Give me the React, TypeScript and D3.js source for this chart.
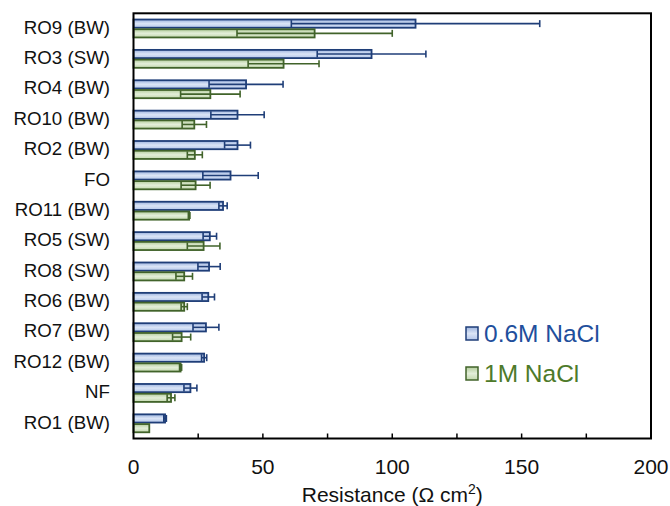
import React from "react";
import * as d3 from "d3";

const categories = ["RO9 (BW)", "RO3 (SW)", "RO4 (BW)", "RO10 (BW)", "RO2 (BW)", "FO", "RO11 (BW)", "RO5 (SW)", "RO8 (SW)", "RO6 (BW)", "RO7 (BW)", "RO12 (BW)", "NF", "RO1 (BW)"];
const series06 = [109, 92, 43.5, 40.2, 40.2, 37.5, 34.6, 29.5, 29.2, 28.9, 28, 27.3, 22, 12.2];
const err06 = [48, 21, 14.3, 10.3, 5, 10.7, 1.6, 2.6, 4.3, 2.4, 5, 1, 2.5, 0.5];
const series1 = [70, 58, 29.7, 23.5, 23.7, 24, 21.5, 27.1, 19.6, 19.6, 18.6, 18.2, 14.5, 6.1];
const err1 = [30, 13.7, 11.5, 4.7, 2.9, 5.6, 0.3, 6.3, 3.2, 1.2, 3.5, 0.4, 1.5, 0];
const seriesNames = ["0.6M NaCl", "1M NaCl"];
const xTicks = [0, 50, 100, 150, 200];
const xMinorTicks = [25, 75, 125, 175];

const W = 670, H = 506;
const M = { left: 133.5, right: 651, top: 13.3, bottom: 438.5 };

export default function App() {
  const x = d3.scaleLinear().domain([0, 200]).range([M.left, M.right]);
  const y = d3.scaleBand<string>().domain(categories).range([M.top, M.bottom]).paddingInner(0.36).paddingOuter(0.18);
  const sub = d3.scaleBand<string>().domain(seriesNames).range([0, y.bandwidth()]);

  const styles = [
    { grad: "gBlue", stroke: "#1f3e78", text: "#1f4f9c", vals: series06, errs: err06 },
    { grad: "gGreen", stroke: "#41632a", text: "#4e7a2a", vals: series1, errs: err1 },
  ];

  return (
    <svg width={W} height={H} style={{ position: "absolute", left: 0, top: 0, background: "#fff" }} fontFamily="'Liberation Sans', Arial, sans-serif">
      <defs>
        <linearGradient id="gBlue" x1="0" y1="0" x2="0" y2="1">
          <stop offset="0" stopColor="#9db4df" />
          <stop offset="0.5" stopColor="#dbe5f6" />
          <stop offset="1" stopColor="#b3c6ea" />
        </linearGradient>
        <linearGradient id="gGreen" x1="0" y1="0" x2="0" y2="1">
          <stop offset="0" stopColor="#b3cd9c" />
          <stop offset="0.5" stopColor="#e3eed9" />
          <stop offset="1" stopColor="#c2d8ad" />
        </linearGradient>
      </defs>

      {categories.map((c, i) => (
        <g key={c}>
          {styles.map((s, k) => {
            const y0 = (y(c) as number) + (sub(seriesNames[k]) as number);
            const h = sub.bandwidth();
            const v = s.vals[i];
            const e = s.errs[i];
            const cy = y0 + h / 2;
            return (
              <g key={k}>
                <rect x={x(0)} y={y0 + 0.75} width={x(v) - x(0)} height={h - 1.5} fill={`url(#${s.grad})`} stroke={s.stroke} strokeWidth={1.8} />
                {e > 0 && (
                  <g stroke={s.stroke} strokeWidth={1.6}>
                    <line x1={x(v - e)} x2={x(v + e)} y1={cy} y2={cy} />
                    <line x1={x(v - e)} x2={x(v - e)} y1={cy - 3.5} y2={cy + 3.5} />
                    <line x1={x(v + e)} x2={x(v + e)} y1={cy - 3.5} y2={cy + 3.5} />
                  </g>
                )}
              </g>
            );
          })}
          <text x={110} y={(y(c) as number) + y.bandwidth() / 2 - 1.5} dy="0.36em" textAnchor="end" fontSize={18.7} fill="#111">{c}</text>
        </g>
      ))}

      {/* frame */}
      <rect x={M.left} y={M.top} width={M.right - M.left} height={M.bottom - M.top} fill="none" stroke="#000" strokeWidth={2} />
      {[...xTicks, ...xMinorTicks].filter(t => t > 0 && t < 200).map(t => (
        <line key={t} x1={x(t)} x2={x(t)} y1={M.bottom} y2={M.bottom - 5} stroke="#000" strokeWidth={1.5} />
      ))}
      {xTicks.map(t => (
        <text key={t} x={x(t)} y={474} textAnchor="middle" fontSize={21} fill="#111">{t}</text>
      ))}
      <text x={(M.left + M.right) / 2} y={502} textAnchor="middle" fontSize={21} fill="#111">
        Resistance (Ω cm<tspan dy={-8} fontSize={14}>2</tspan><tspan dy={8}>)</tspan>
      </text>

      {/* legend */}
      {styles.map((s, k) => (
        <g key={k}>
          <rect x={466} y={327 + k * 40} width={12} height={13} fill={`url(#${s.grad})`} stroke={s.stroke} strokeWidth={1.5} />
          <text x={484} y={341.5 + k * 40} fontSize={24.5} fill={s.text}>{seriesNames[k]}</text>
        </g>
      ))}
    </svg>
  );
}
